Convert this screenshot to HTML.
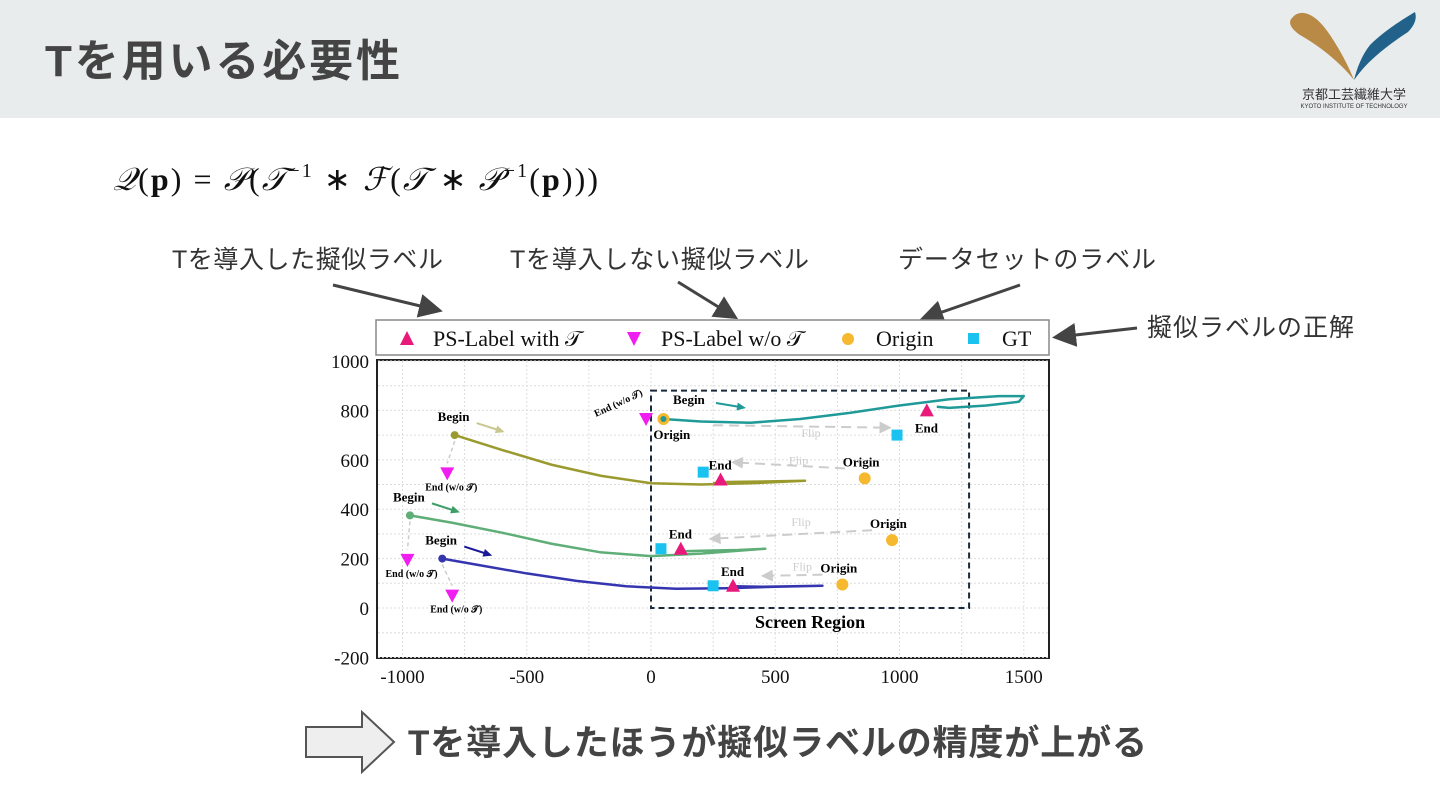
<!DOCTYPE html>
<html><head><meta charset="utf-8"><style>
body{margin:0;width:1440px;height:810px;background:#fff;overflow:hidden;font-family:"Liberation Sans","Noto Sans CJK JP",sans-serif;}
svg{position:absolute;left:0;top:0}
</style></head><body>
<svg width="1440" height="810" xmlns="http://www.w3.org/2000/svg" id="root">
<rect x="0" y="0" width="1440" height="118" fill="#e8ecec"/>
<text x="45" y="76" font-size="44" font-weight="bold" fill="#444" textLength="355" font-family="Liberation Sans, Noto Sans CJK JP, sans-serif">Tを用いる必要性</text>
<g>
<path d="M1292,18 C1300,8 1315,12 1330,35 C1340,50 1348,65 1354,80 C1340,62 1318,45 1300,35 C1290,28 1288,22 1292,18Z" fill="#b88a45"/>
<path d="M1415,12 C1405,18 1385,30 1370,45 C1362,55 1357,68 1354,80 C1368,60 1388,45 1408,32 C1415,25 1417,18 1415,12Z" fill="#22618a"/>
<text x="1354" y="99" font-size="13" text-anchor="middle" fill="#333" font-family="Noto Sans CJK JP, sans-serif">京都工芸繊維大学</text>
<text x="1354" y="108" font-size="6" text-anchor="middle" fill="#333">KYOTO INSTITUTE OF TECHNOLOGY</text>
</g>
<text x="113" y="190" font-size="32" fill="#111" textLength="485" font-family="Liberation Serif, serif"><tspan font-style="italic">𝒬</tspan>(<tspan font-weight="bold">p</tspan>) = <tspan font-style="italic">𝒫</tspan>(<tspan font-style="italic">𝒯</tspan><tspan font-size="20" dy="-13">−1</tspan><tspan dy="13"> ∗ </tspan><tspan font-style="italic">ℱ</tspan>(<tspan font-style="italic">𝒯</tspan> ∗ <tspan font-style="italic">𝒫</tspan><tspan font-size="20" dy="-13">−1</tspan><tspan dy="13">(</tspan><tspan font-weight="bold">p</tspan>)))</text>
<g font-size="25" fill="#333">
<text x="172" y="268" textLength="271">Tを導入した擬似ラベル</text>
<text x="510" y="268" textLength="299">Tを導入しない擬似ラベル</text>
<text x="898" y="268" textLength="258">データセットのラベル</text>
<text x="1147" y="336" textLength="207">擬似ラベルの正解</text>
</g>
<defs><marker id="ah" markerWidth="8" markerHeight="8" refX="6" refY="4" orient="auto"><path d="M0,0 L8,4 L0,8Z" fill="#444"/></marker>
<marker id="lh" markerWidth="6" markerHeight="6" refX="5" refY="3" orient="auto"><path d="M0,0 L6,3 L0,6Z" fill="#ccc"/></marker></defs>
<g stroke="#444" stroke-width="3" marker-end="url(#ah)">
<line x1="333" y1="285" x2="437" y2="310"/>
<line x1="678" y1="282" x2="733" y2="316"/>
<line x1="1020" y1="285" x2="925" y2="318"/>
<line x1="1137" y1="328" x2="1058" y2="337"/>
</g>
<g>
<rect x="376" y="320" width="673" height="35" fill="#fff" stroke="#888" stroke-width="1.5"/>
<g font-family="Liberation Serif, serif" font-size="22" fill="#111">
<path d="M400,345 L414,345 L407,331Z" fill="#e8197a"/><text x="433" y="346">PS-Label with 𝒯</text>
<path d="M627,332 L641,332 L634,346Z" fill="#f01ef0"/><text x="661" y="346">PS-Label w/o 𝒯</text>
<circle cx="848" cy="339" r="6" fill="#f5b82e"/><text x="876" y="346">Origin</text>
<rect x="968" y="333" width="11" height="11" fill="#1ac3ef"/><text x="1002" y="346">GT</text>
</g></g>
<g id="chart"></g>
<g>
<path d="M306,727 L362,727 L362,712 L394,742 L362,772 L362,757 L306,757Z" fill="#eee" stroke="#555" stroke-width="2"/>
<text x="408" y="755" font-size="35" font-weight="bold" fill="#444" textLength="739">Tを導入したほうが擬似ラベルの精度が上がる</text>
</g>
</svg>
<script>
const xTicks=[-1000,-500,0,500,1000,1500];
const yTicks=[-200,0,200,400,600,800,1000];
const seriesNames=['teal','olive','green','blue'];
const seriesColors=['#1f9a98','#9a9a2e','#5fae77','#3535b0'];
const teal=[[50,765],[200,755],[400,750],[600,765],[800,790],[1000,820],[1200,845],[1400,858],[1500,858],[1480,835],[1350,820],[1200,810],[1150,815]];
const olive=[[-790,700],[-600,640],[-400,580],[-200,535],[0,505],[200,500],[400,505],[620,515],[450,512],[300,510],[250,505]];
const green=[[-970,375],[-800,345],[-600,305],[-400,260],[-200,225],[0,210],[200,220],[460,240],[350,235],[200,232],[130,230]];
const blue=[[-840,200],[-700,175],[-500,140],[-300,110],[-100,88],[100,78],[300,80],[500,86],[690,90],[450,86],[330,88]];
const withT=[[1110,800],[280,520],[120,240],[330,90]];
const withoutT=[[-20,765],[-820,545],[-980,195],[-800,50]];
const origins=[[50,765],[860,525],[970,275],[770,95]];
const gts=[[990,700],[210,550],[40,240],[250,90]];
const begins=[[-790,700],[-970,375],[-840,200]];
const beginColors=['#c8c890','#3e9e68','#1a1a99'];
const screenRegion=[0,0,1280,880];
const NS='http://www.w3.org/2000/svg';
const X=v=>651+v*0.2485, Y=v=>608-v*0.247;
const g=document.getElementById('chart');
function mk(t,a){const e=document.createElementNS(NS,t);for(const k in a)e.setAttribute(k,a[k]);g.appendChild(e);return e;}
function arrow(x1,y1,x2,y2,c){const ang=Math.atan2(y2-y1,x2-x1);
 let l=mk('line',{x1:x1,y1:y1,x2:x2-6*Math.cos(ang),y2:y2-6*Math.sin(ang),stroke:c,'stroke-width':2});
 
 const p=[[x2,y2],[x2-9*Math.cos(ang)+4*Math.sin(ang),y2-9*Math.sin(ang)-4*Math.cos(ang)],[x2-9*Math.cos(ang)-4*Math.sin(ang),y2-9*Math.sin(ang)+4*Math.cos(ang)]];
 l=mk('polygon',{points:p.map(q=>q.join(',')).join(' '),fill:c});}
let e=mk('rect',{x:377,y:360,width:672,height:298,fill:'#fff',stroke:'#222','stroke-width':2});

for(let v=-1000;v<=1500;v+=250){e=mk('line',{x1:X(v),x2:X(v),y1:361,y2:657,stroke:'#ddd','stroke-dasharray':'2,2'});}
for(let v=-200;v<=1000;v+=100){e=mk('line',{x1:378,x2:1048,y1:Y(v),y2:Y(v),stroke:'#ddd','stroke-dasharray':'2,2'});}
xTicks.forEach(v=>{e=mk('text',{x:X(v),y:683,'font-size':19,'text-anchor':'middle','font-family':'Liberation Serif, serif',fill:'#111'});e.textContent=v;});
yTicks.forEach(v=>{e=mk('text',{x:369,y:Y(v)+7,'font-size':19,'text-anchor':'end','font-family':'Liberation Serif, serif',fill:'#111'});e.textContent=v;});
e=mk('rect',{x:X(screenRegion[0]),y:Y(screenRegion[3]),width:X(screenRegion[2])-X(screenRegion[0]),height:Y(screenRegion[1])-Y(screenRegion[3]),fill:'none',stroke:'#1a2a3a','stroke-width':2,'stroke-dasharray':'6,4'});

e=mk('text',{x:X(640),y:628,'font-size':18,'font-weight':'bold','text-anchor':'middle','font-family':'Liberation Serif, serif'});e.textContent='Screen Region';

[[origins[0],gts[0]],[origins[1],gts[1]],[origins[2],withT[2]],[origins[3],withT[3]]].forEach((p,i)=>{
 const a=p[0],b=p[1];const x1=i==0?X(a[0]+200):X(a[0]-80),x2=i==0?X(b[0]-30):X(b[0]+120);
 e=mk('line',{x1:x1,y1:Y(a[1]+(i==0?-25:40)),x2:x2,y2:Y(b[1]+(i==0?30:40)),stroke:'#ccc','stroke-width':2,'stroke-dasharray':'10,6','marker-end':'url(#lh)'});
 
 e=mk('text',{x:(x1+x2)/2,y:Y(a[1]+(i==0?-25:40))+(i==0?12:-4),'font-size':12,fill:'#ccc','font-family':'Liberation Serif, serif'});e.textContent='Flip';
 
});
[teal,olive,green,blue].forEach((s,i)=>{
 e=mk('polyline',{points:s.map(p=>X(p[0])+','+Y(p[1])).join(' '),fill:'none',stroke:seriesColors[i],'stroke-width':2.5,'stroke-linejoin':'round'});
 
});
begins.forEach((p,i)=>{const x=X(p[0]),y=Y(p[1]);
 e=mk('circle',{cx:x,cy:y,r:4,fill:seriesColors[i+1]});
 const t=mk('text',{x:x-17,y:y-14,'font-size':13,'font-weight':'bold','font-family':'Liberation Serif, serif'});t.textContent='Begin';
 
 arrow(x+22,y-12,x+50,y-3,beginColors[i]);
 const d=mk('line',{x1:x,y1:y+6,x2:X(withoutT[i+1][0]),y2:Y(withoutT[i+1][1])-10,stroke:'#ccc','stroke-width':1.5,'stroke-dasharray':'4,3'});
});
e=mk('text',{x:673,y:404,'font-size':13,'font-weight':'bold','font-family':'Liberation Serif, serif'});e.textContent='Begin';
arrow(716,403,746,408,'#1f9a98');
origins.forEach((p,i)=>{e=mk('circle',{cx:X(p[0]),cy:Y(p[1]),r:6,fill:'#f5b82e'});
 const t=mk('text',{x:X(p[0])+(i==0?-10:-22),y:Y(p[1])+(i==0?20:-12),'font-size':13,'font-weight':'bold','font-family':'Liberation Serif, serif'});t.textContent='Origin';});
e=mk('circle',{cx:X(50),cy:Y(765),r:3,fill:'#1f9a98'});
gts.forEach(p=>{e=mk('rect',{x:X(p[0])-5.5,y:Y(p[1])-5.5,width:11,height:11,fill:'#1ac3ef'});});
withT.forEach((p,i)=>{const x=X(p[0]),y=Y(p[1]);e=mk('path',{d:`M${x-7},${y+6} L${x+7},${y+6} L${x},${y-7}Z`,fill:'#e8197a'});
 const t=mk('text',{x:x-12,y:y+(i==0?22:-10),'font-size':13,'font-weight':'bold','font-family':'Liberation Serif, serif'});t.textContent='End';});
withoutT.forEach((p,i)=>{const x=X(p[0]),y=Y(p[1]);e=mk('path',{d:`M${x-7},${y-6} L${x+7},${y-6} L${x},${y+7}Z`,fill:'#f01ef0'});
 const t=mk('text',{x:i==0?x-50:x-22,y:i==0?y-2:y+17,'font-size':10,'font-weight':'bold','font-family':'Liberation Serif, serif'});t.textContent='End (w/o 𝒯)';
 if(i==0)t.setAttribute('transform',`rotate(-25 ${x-50} ${y-2})`);
 });
</script>
</body></html>
